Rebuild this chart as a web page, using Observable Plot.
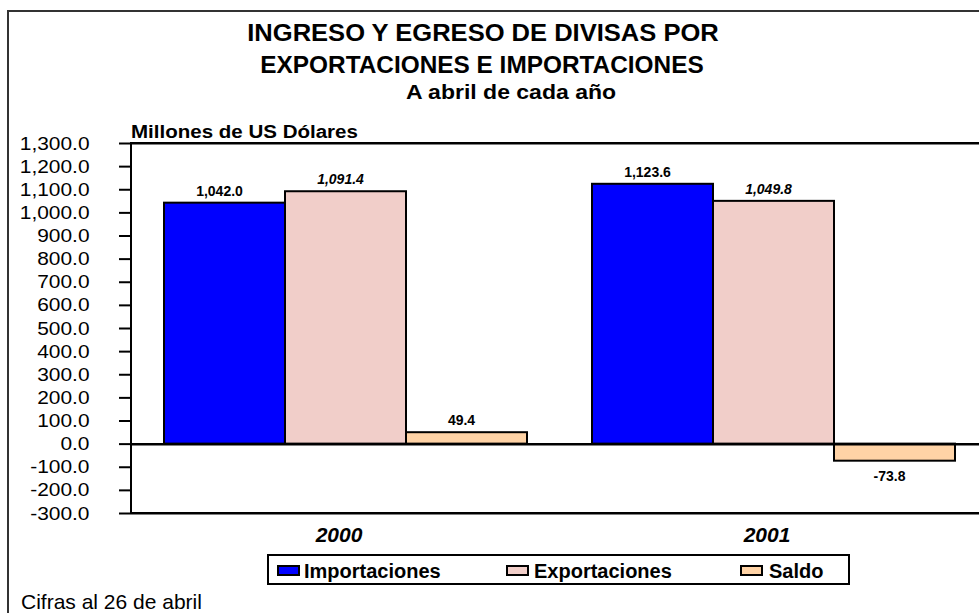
<!DOCTYPE html>
<html><head><meta charset="utf-8">
<script src="https://cdn.jsdelivr.net/npm/d3@7"></script>
<script src="https://cdn.jsdelivr.net/npm/@observablehq/plot@0.6"></script>
<style>
html,body{margin:0;padding:0;background:#fff;overflow:hidden;}
#root{position:relative;width:979px;height:613px;overflow:hidden;font-family:"Liberation Sans",Arial,sans-serif;color:#000;background:#fff;}
.abs{position:absolute;white-space:nowrap;line-height:1;}
#border{position:absolute;left:7px;top:10px;width:1000px;height:700px;border-left:2px solid #333;border-top:2px solid #333;}
#root svg{position:absolute;left:0;top:0;}
</style></head><body><div id="root"><div id="border"></div></div>
<script>
const years = ["2000", "2001"];
const series = ["Importaciones", "Exportaciones", "Saldo"];
const importaciones = [1042.0, 1123.6];
const exportaciones = [1091.4, 1049.8];
const saldo = [49.4, -73.8];
const colors = ["#0000FF", "#F1CEC9", "#FFD3A6"];
const yTicks = [-300, -200, -100, 0, 100, 200, 300, 400, 500, 600, 700, 800, 900, 1000, 1100, 1200, 1300];
const titleLines = ["INGRESO Y EGRESO DE DIVISAS POR", "EXPORTACIONES E IMPORTACIONES"];
const subtitle = "A abril de cada año";
const yLabel = "Millones de US Dólares";
const footnote = "Cifras al 26 de abril";

const values = [importaciones, exportaciones, saldo];
const data = [];
years.forEach((year, i) => series.forEach((s, j) => data.push({year, series: s, value: values[j][i]})));
const fmt0 = d3.format(",.1f");
const fmt = v => fmt0(v).replace("\u2212", "-");
const FONT = '"Liberation Sans", Arial, sans-serif';
const yMin = yTicks[0], yMax = yTicks[yTicks.length - 1];

const root = document.getElementById("root");

const chart = Plot.plot({
  width: 1000, height: 613,
  marginTop: 143, marginBottom: 100, marginLeft: 130, marginRight: 13,
  style: {background: "transparent", maxWidth: "none", fontFamily: FONT, overflow: "visible", color: "#000"},
  fx: {domain: years, padding: 0, label: null},
  x: {domain: series, paddingInner: 0, paddingOuter: 0.264, axis: null},
  y: {domain: [yMin, yMax], label: null},
  color: {domain: series, range: colors},
  marks: [
    Plot.barY(data, {fx: "year", x: "series", y: "value", fill: "series", stroke: "#000", strokeWidth: 2}),
    Plot.ruleY([0], {stroke: "#000", strokeWidth: 2.5}),
    Plot.ruleY([yMin, yMax], {stroke: "#000", strokeWidth: 2}),
    // plot-area outline: only its left edge falls inside the picture
    Plot.rect([years[0]], {fx: d => d, y1: yMin, y2: yMax, fill: "none", stroke: "#000", strokeWidth: 2, insetRight: -480}),
    Plot.axisY({ticks: yTicks, tickFormat: fmt, tickSize: 12, tickPadding: 30, fontSize: 19, strokeWidth: 2}),
    Plot.axisFx({anchor: "bottom", tickSize: 0, tickPadding: 14, fontSize: 21, fontWeight: "bold", fontStyle: "italic", dx: -6.5}),
    Plot.text(data, {filter: d => d.value >= 0 && d.series !== "Exportaciones", fx: "year", x: "series", y: "value",
      text: d => fmt(d.value), lineAnchor: "bottom", dy: -7.5, dx: -5.5, fontSize: 14, fontWeight: "bold"}),
    Plot.text(data, {filter: d => d.value >= 0 && d.series === "Exportaciones", fx: "year", x: "series", y: "value",
      text: d => fmt(d.value), lineAnchor: "bottom", dy: -7.5, dx: -5.5, fontSize: 14, fontWeight: "bold", fontStyle: "italic"}),
    Plot.text(data, {filter: d => d.value < 0, fx: "year", x: "series", y: "value",
      text: d => fmt(d.value), lineAnchor: "top", dy: 10, dx: -5.5, fontSize: 14, fontWeight: "bold"})
  ]
});
root.appendChild(chart);

// widen y tick labels slightly to match the reference typeface proportions
d3.select(chart).selectAll('g[aria-label="y-axis tick label"] text').each(function() {
  const len = this.getComputedTextLength();
  this.setAttribute("textLength", (len * 1.1).toFixed(1));
  this.setAttribute("lengthAdjust", "spacingAndGlyphs");
});

function addText(txt, opts) {
  const el = document.createElement("div");
  el.className = "abs";
  el.textContent = txt;
  Object.assign(el.style, opts);
  root.appendChild(el);
  return el;
}
function centered(txt, cx, baseline, size, weight, k) {
  addText(txt, {left: (cx - 500) + "px", width: "1000px", textAlign: "center",
    top: (baseline - 0.8465 * size) + "px", fontSize: size + "px", fontWeight: weight,
    transform: `scaleX(${k})`, transformOrigin: "50% 50%"});
}
centered(titleLines[0], 483, 41, 23, "bold", 1.11);
centered(titleLines[1], 482, 73.5, 23, "bold", 1.06);
centered(subtitle, 511, 98.5, 20, "bold", 1.15);
addText(yLabel, {left: "131px", top: (138 - 0.8465 * 18) + "px", fontSize: "18px", fontWeight: "bold",
  transform: "scaleX(1.14)", transformOrigin: "0 50%"});
addText(footnote, {left: "21px", top: (608.5 - 0.8465 * 21) + "px", fontSize: "21px"});

// legend
const legend = document.createElement("div");
Object.assign(legend.style, {position: "absolute", left: "267px", top: "554px", width: "583px", height: "31px",
  border: "2px solid #000", boxSizing: "border-box", background: "#fff"});
root.appendChild(legend);
const swatchX = [277, 506, 740];
const textX = [304, 534, 769];
series.forEach((s, i) => {
  const sw = document.createElement("div");
  Object.assign(sw.style, {position: "absolute", left: (swatchX[i] - 269) + "px", top: (565 - 556) + "px",
    width: "23px", height: "11px", border: "2px solid #000", boxSizing: "border-box", background: colors[i]});
  legend.appendChild(sw);
  const t = document.createElement("div");
  t.textContent = s;
  Object.assign(t.style, {position: "absolute", left: (textX[i] - 269) + "px", top: (578.3 - 0.8465 * 20 - 556) + "px",
    fontSize: "20px", fontWeight: "bold", lineHeight: "1", whiteSpace: "nowrap"});
  legend.appendChild(t);
});
</script>
</body></html>
